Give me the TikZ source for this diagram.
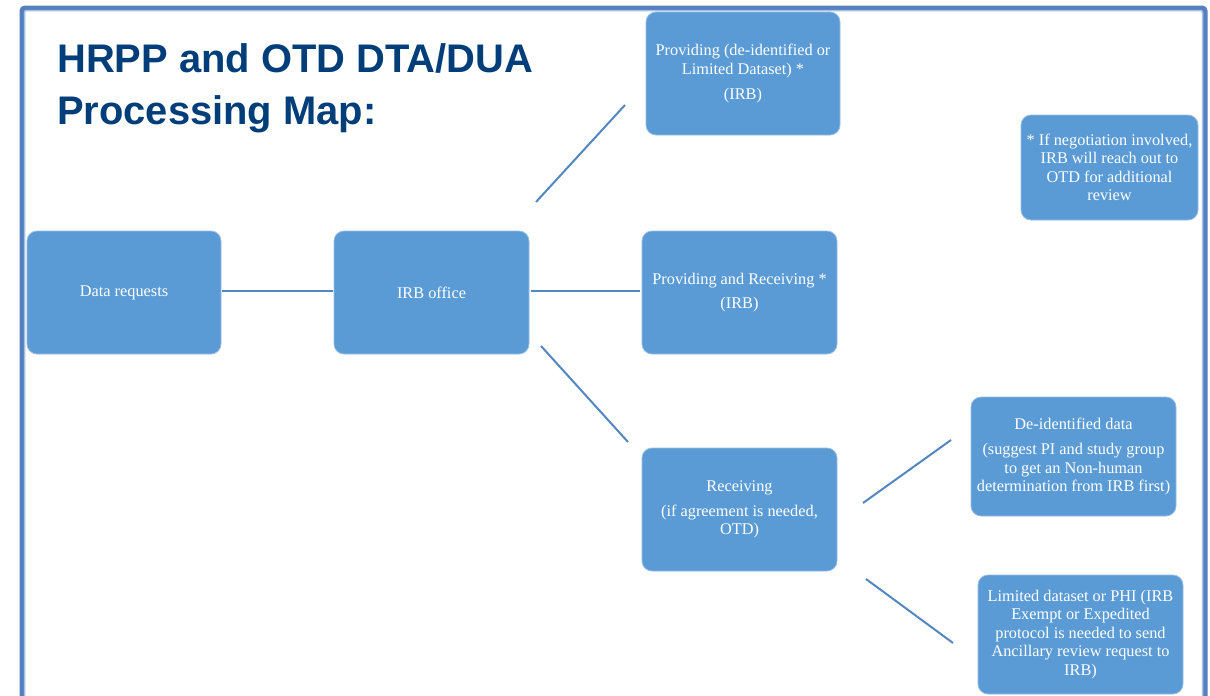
\documentclass[tikz,border=0pt]{standalone}
\usepackage{fontspec}
\setmainfont{Liberation Serif}
\newfontfamily\titlefont{Liberation Sans}
\definecolor{boxblue}{RGB}{91,155,213}
\definecolor{edgeblue}{RGB}{150,190,230}
\definecolor{lineblue}{RGB}{84,135,192}
\definecolor{frameblue}{RGB}{84,128,192}
\definecolor{framelight}{RGB}{165,192,228}
\definecolor{titleblue}{RGB}{0,62,122}
\begin{document}
\begin{tikzpicture}[x=1pt,y=-1pt,
  card/.style={draw=edgeblue, line width=0.8pt, fill=boxblue, rounded corners=10pt,
    text=white, align=center, font=\fontsize{16.3}{18.5}\selectfont, inner sep=0pt},
  link/.style={draw=lineblue, line width=2pt},
  heading/.style={anchor=base west, inner sep=0pt, text=titleblue,
    font=\titlefont\bfseries\fontsize{39.9}{52}\selectfont}
  ]
\useasboundingbox (0,0) rectangle (1210,696);
\clip (0,0) rectangle (1210,696);
\fill[white] (0,0) rectangle (1210,696);
% frame
\draw[frameblue, line width=5pt, rounded corners=3pt] (22,760) -- (22,8) -- (1205,8) -- (1205,760);
\draw[framelight, line width=1.5pt, rounded corners=2pt] (24.5,760) -- (24.5,10.5) -- (1202.5,10.5) -- (1202.5,760);
% title
\node[heading] (title1) at (57,72) {HRPP and OTD DTA/DUA};
\node[heading] (title2) at (57,124) {Processing Map:};
% boxes
\node[card, minimum width=194pt, minimum height=123pt] (dr) at (124,292.5) {Data requests};
\node[card, minimum width=195pt, minimum height=123pt] (irb) at (431.5,292.5) {IRB office};
\node[card, minimum width=194pt, minimum height=123pt] (prov) at (743,73.5)
  {Providing (de-identified or\\ Limited Dataset) *\\[7pt] (IRB)};
\node[card, minimum width=195pt, minimum height=123pt] (pr) at (739.5,292.5)
  {Providing and Receiving *\\[6pt] (IRB)};
\node[card, minimum width=195pt, minimum height=123pt] (rec) at (739.5,509.5)
  {Receiving\\[6pt] (if agreement is needed,\\ OTD)};
\node[card, minimum width=177pt, minimum height=105pt] (note) at (1109.5,167.5)
  {* If negotiation involved,\\ IRB will reach out to\\ OTD for additional\\ review};
\node[card, minimum width=205pt, minimum height=119pt] (deid) at (1073.5,456.5)
  {De-identified data\\[7pt] (suggest PI and study group\\ to get an Non-human\\ determination from IRB first)};
\node[card, minimum width=205pt, minimum height=119pt] (lim) at (1080.5,634.5)
  {Limited dataset or PHI (IRB\\ Exempt or Expedited\\ protocol is needed to send\\ Ancillary review request to\\ IRB)};
% connector end points
\coordinate (a1) at (536,202);
\coordinate (a2) at (625,105);
\coordinate (b1) at (541,346);
\coordinate (b2) at (628,442);
\coordinate (c1) at (863,503);
\coordinate (c2) at (951,440);
\coordinate (d1) at (866,579);
\coordinate (d2) at (953,643);
% connectors
\draw[link] ([xshift=1pt,yshift=1.5pt]dr.east) -- ([xshift=-1pt,yshift=1.5pt]irb.west);
\draw[link] ([xshift=2pt,yshift=1.5pt]irb.east) -- ([xshift=-2pt,yshift=1.5pt]pr.west);
\draw[link] (a1) -- (a2);
\draw[link] (b1) -- (b2);
\draw[link] (c1) -- (c2);
\draw[link] (d1) -- (d2);
\end{tikzpicture}
\end{document}
